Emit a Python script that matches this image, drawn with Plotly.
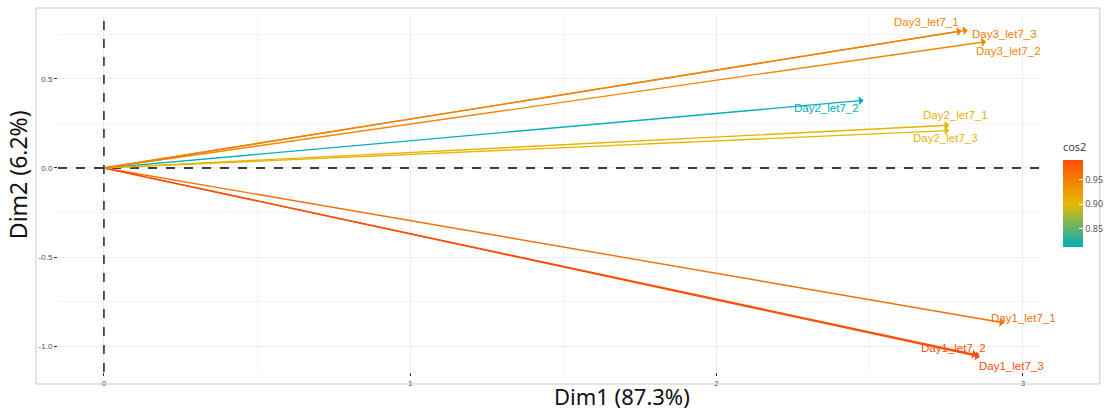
import plotly.graph_objects as go
from plotly.colors import sample_colorscale

# variable names, PCA coordinates and cos2 quality
var_names = [
    "Day1_let7_1", "Day1_let7_2", "Day1_let7_3",
    "Day2_let7_1", "Day2_let7_2", "Day2_let7_3",
    "Day3_let7_1", "Day3_let7_2", "Day3_let7_3",
]
dim1 = [2.94, 2.85, 2.86, 2.76, 2.48, 2.76, 2.80, 2.88, 2.82]
dim2 = [-0.87, -1.05, -1.06, 0.24, 0.38, 0.21, 0.77, 0.71, 0.775]
cos2 = [0.962, 0.988, 0.990, 0.905, 0.812, 0.900, 0.946, 0.942, 0.947]

x_ticks = [0, 1, 2, 3]
y_ticks = [-1.0, -0.5, 0.0, 0.5]
cbar_ticks = [0.85, 0.90, 0.95]

# label nudges in pixels (ggrepel-like placement)
label_dx = [19, -23, 32, 6, -37, -4, -35, 22, 37]
label_dy = [5, 7, -9, 10, -8, -7, 9, -9, -4]

GRADIENT = [[0, "#00AFBB"], [0.5, "#E7B800"], [1, "#FC4E07"]]
cmin, cmax = min(cos2), max(cos2)
colours = sample_colorscale(GRADIENT, [(c - cmin) / (cmax - cmin) for c in cos2])

fig = go.Figure()

# invisible markers at the tips that carry the colour bar
fig.add_trace(
    go.Scatter(
        x=dim1,
        y=dim2,
        mode="markers",
        marker=dict(
            color=cos2,
            colorscale=GRADIENT,
            cmin=cmin,
            cmax=cmax,
            size=1,
            opacity=0,
            showscale=True,
            colorbar=dict(
                title=dict(text="cos2", side="top", font=dict(size=11, color="#333333")),
                x=1.0234,
                xanchor="left",
                y=0.648,
                yanchor="top",
                len=107,
                lenmode="pixels",
                thickness=20,
                xpad=0,
                ypad=0,
                outlinewidth=0,
                ticks="inside",
                ticklen=4,
                tickcolor="white",
                tickvals=cbar_ticks,
                ticktext=[f"{t:.2f}" for t in cbar_ticks],
                tickfont=dict(size=9, color="#4D4D4D"),
            ),
        ),
        hoverinfo="skip",
        showlegend=False,
    )
)

# arrows and labels
for i in range(len(var_names)):
    fig.add_annotation(
        x=dim1[i], y=dim2[i], ax=0, ay=0,
        xref="x", yref="y", axref="x", ayref="y",
        text="", showarrow=True,
        arrowhead=1, arrowsize=1.1, arrowwidth=1.4,
        arrowcolor=colours[i],
    )
    fig.add_annotation(
        x=dim1[i], y=dim2[i], xref="x", yref="y",
        text=var_names[i], showarrow=False,
        xshift=label_dx[i], yshift=label_dy[i],
        font=dict(family="Liberation Sans, Arial", size=11.5, color=colours[i]),
    )

# dashed reference lines
fig.add_shape(type="line", xref="x", yref="paper", x0=0, x1=0, y0=0, y1=1,
              line=dict(color="black", width=1.3, dash="dash"))
fig.add_shape(type="line", xref="paper", yref="y", x0=0, x1=1, y0=0, y1=0,
              line=dict(color="black", width=1.3, dash="dash"))

# outer frame
fig.add_shape(type="rect", xref="paper", yref="paper",
              x0=-0.0224, x1=1.061, y0=-0.0335, y1=1.0168,
              line=dict(color="#C8C8C8", width=1))

# axis titles
fig.add_annotation(text="Dim1 (87.3%)", xref="paper", yref="paper",
                   x=0.574, y=-0.066, yanchor="middle", showarrow=False,
                   font=dict(family="Noto Sans", size=22, color="#111111"))
fig.add_annotation(text="Dim2 (6.2%)", xref="paper", yref="paper",
                   x=-0.0407, y=0.55, xanchor="center", yanchor="middle",
                   textangle=-90, showarrow=False,
                   font=dict(family="Noto Sans", size=23, color="#111111"))

axis_common = dict(
    showline=False,
    zeroline=False,
    gridcolor="#EBEBEB",
    gridwidth=1,
    ticks="outside",
    ticklen=3,
    tickcolor="#333333",
    tickfont=dict(family="Liberation Sans, Arial", size=8, color="#4D4D4D"),
)

fig.update_xaxes(
    range=[-0.150, 3.056],
    tickvals=x_ticks,
    minor=dict(tickvals=[0.5, 1.5, 2.5], showgrid=True, gridcolor="#F3F3F3"),
    **axis_common,
)
fig.update_yaxes(
    range=[-1.146, 0.865],
    tickvals=y_ticks,
    ticktext=[f"{t:.1f}" for t in y_ticks],
    minor=dict(tickvals=[-0.75, -0.25, 0.25, 0.75], showgrid=True, gridcolor="#F3F3F3"),
    **axis_common,
)

fig.update_layout(
    width=1106,
    height=412,
    margin=dict(l=58, r=66, t=14, b=40, autoexpand=False),
    plot_bgcolor="white",
    paper_bgcolor="white",
    showlegend=False,
)

# drop the page's default body margin so the figure fills the window
fig.write_html(
    "out.html",
    config={"displayModeBar": False},
    post_script="document.body.style.margin='0px';",
)
